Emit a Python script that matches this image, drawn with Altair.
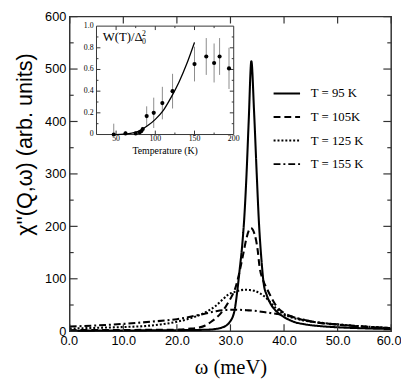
import altair as alt
import pandas as pd

# ---------------- main panel data ----------------
series_labels = ["T = 95 K", "T = 105K", "T = 125 K", "T = 155 K"]

omega_95 = [0, 5, 10, 15, 20, 24, 26, 28.4, 29.9, 30.8, 31.3, 31.7, 32.2, 32.6, 33.0, 33.4, 33.9,
            34.4, 34.9, 35.3, 35.8, 36.2, 36.8, 37.4, 38.2, 39, 40, 41.8, 44, 47, 50, 55, 60]
chi_95 = [1, 1.2, 1.4, 1.7, 2, 2.5, 3, 7, 18, 42, 79, 116, 165, 220, 300, 400, 515,
          420, 300, 210, 134, 91, 68, 54, 42, 34, 27, 18, 13, 9.5, 7.5, 5.5, 4.2]

omega_105 = [0, 5, 10, 15, 20.4, 22, 24.1, 25.3, 26.4, 27.3, 28.1, 29, 29.6, 30.2, 30.8, 31.5, 32.0,
             32.5, 33.0, 33.8, 34.5, 35.1, 35.4, 36.1, 36.9, 37.8, 38.7, 40, 41.2, 43, 46, 50, 55, 60]
chi_105 = [2, 2.2, 2.4, 2.6, 3, 4.5, 7, 11, 18, 25, 33, 45, 55, 66, 79, 105, 128,
           153, 178, 197, 185, 153, 125, 97, 79, 61, 46, 35, 29, 23, 17, 12.5, 8.5, 6]

omega_125 = [0, 5, 10, 14.3, 17, 20, 22.3, 25.3, 27.2, 28.5, 29.6, 30.8, 31.8, 32.7, 33.6, 34.5,
             35.7, 36.9, 37.8, 38.7, 40, 41.2, 43, 46.1, 50, 55, 60]
chi_125 = [5, 6.5, 8, 10, 13, 18, 24, 36, 48, 60, 70, 75, 78, 79, 78.5, 77,
           71, 61, 51, 42, 33, 27, 22, 17, 13, 9, 6]

omega_155 = [0, 5, 10, 15, 20, 25, 27.2, 29, 31, 33, 34.5, 36.5, 38.7, 40.4, 42, 44, 46, 50, 55, 60]
chi_155 = [9, 11, 14, 18, 23, 33, 38, 40.5, 41, 40, 39, 36, 33, 30, 26, 21, 17, 13, 9, 6]

x_ticks = [0, 10, 20, 30, 40, 50, 60]
y_ticks = [0, 100, 200, 300, 400, 500, 600]
y_minor = [50, 150, 250, 350, 450, 550]

# ---------------- inset data ----------------
T_pts = [47, 62, 75, 80, 82, 84, 89, 98, 109, 122, 150, 165, 175, 182, 194]
W_pts = [0.00, 0.01, 0.01, 0.02, 0.03, 0.05, 0.17, 0.20, 0.29, 0.40, 0.65, 0.72, 0.66, 0.72, 0.61]
W_err = [0.10, 0.02, 0.01, 0.01, 0.01, 0.02, 0.09, 0.14, 0.15, 0.16, 0.16, 0.17, 0.18, 0.17, 0.19]

T_fit = [50, 60, 70, 80, 90, 100, 110, 120, 130, 140, 150]
W_fit = [0.0, 0.003, 0.012, 0.035, 0.08, 0.14, 0.22, 0.34, 0.48, 0.65, 0.85]

inset_x_major = [50, 100, 150]
inset_x_minor = [75, 125, 175]
inset_y_major = [0.2, 0.4, 0.6, 0.8]
inset_y_minor = [0.1, 0.3, 0.5, 0.7, 0.9]
inset_x_labels = [50, 100, 150, 200]
inset_x_label_text = ["50", "100", "150", "200"]
inset_y_labels = [0, 0.2, 0.4, 0.6, 0.8, 1.0]
inset_y_label_text = ["0", "0.2", "0.4", "0.6", "0.8", "1.0"]

# ---------------- build ----------------
W, H = 328, 321
FRAME = "#333333"

rows = []
for lab, ws, cs in zip(series_labels, [omega_95, omega_105, omega_125, omega_155],
                       [chi_95, chi_105, chi_125, chi_155]):
    for w, c in zip(ws, cs):
        rows.append({"series": lab, "omega": w, "chi": c})
df = pd.DataFrame(rows)


def xs():
    return alt.Scale(domain=[0, 60], nice=False, zero=False)


def ys():
    return alt.Scale(domain=[0, 600], nice=False, zero=False)


def ixs():
    return alt.Scale(domain=[25, 200], range=[27.3, 167.3], nice=False, zero=False)


def iys():
    return alt.Scale(domain=[0, 1], range=[120.3, 9.7], nice=False, zero=False)


lines = alt.Chart(df).mark_line(interpolate="monotone", strokeWidth=2.1, color="black").encode(
    x=alt.X("omega:Q", scale=xs(),
            axis=alt.Axis(values=x_ticks, format=".1f", title="ω  (meV)", orient="bottom",
                          titleFont="Liberation Serif", titleFontSize=21, titleFontWeight="normal",
                          titleColor="black", titlePadding=9,
                          labelFont="Liberation Sans", labelFontSize=13, labelColor="black",
                          labelPadding=4, ticks=False, domain=False, grid=False,
                          labelFlush=True, labelFlushOffset=10)),
    y=alt.Y("chi:Q", scale=ys(),
            axis=alt.Axis(values=y_ticks, format="d", title="χ''(Q,ω)  (arb. units)", orient="left",
                          titleFont="Liberation Sans", titleFontSize=22, titleFontWeight="normal",
                          titleColor="black", titleAngle=-90, titleX=-46, titleY=130,
                          titleAlign="center", titleBaseline="middle",
                          labelFont="Liberation Sans", labelFontSize=13, labelColor="black",
                          labelPadding=4, ticks=False, domain=False, grid=False,
                          labelFlush=False)),
    strokeDash=alt.StrokeDash(
        "series:N",
        scale=alt.Scale(domain=series_labels, range=[[1, 0], [7, 4], [2, 2], [7, 3, 2, 3]]),
        legend=alt.Legend(title=None, orient="none", legendX=207, legendY=72,
                          symbolType="stroke", symbolSize=729, symbolStrokeWidth=2,
                          symbolStrokeColor="black", labelFont="Liberation Serif",
                          labelFontSize=13, labelColor="black", labelOffset=10,
                          rowPadding=10, clipHeight=13, padding=0)),
)


def vticks(vals, at, off, xscale, yscale, w=1.2):
    return alt.Chart(pd.DataFrame({"v": vals})).mark_rule(
        color=FRAME, strokeWidth=w, y2Offset=off).encode(
        x=alt.X("v:Q", scale=xscale, axis=None),
        y=alt.YDatum(at, scale=yscale, axis=None),
        y2=alt.Y2Datum(at),
    )


def hticks(vals, at, off, xscale, yscale, w=1.2):
    return alt.Chart(pd.DataFrame({"v": vals})).mark_rule(
        color=FRAME, strokeWidth=w, x2Offset=off).encode(
        y=alt.Y("v:Q", scale=yscale, axis=None),
        x=alt.XDatum(at, scale=xscale, axis=None),
        x2=alt.X2Datum(at),
    )


frame = alt.Chart(pd.DataFrame({"a": [0]})).mark_rect(
    fill="white", stroke=FRAME, strokeWidth=1).encode(
    x=alt.XDatum(25, scale=ixs(), axis=None), x2=alt.X2Datum(200),
    y=alt.YDatum(0, scale=iys(), axis=None), y2=alt.Y2Datum(1),
)

pts = pd.DataFrame({"T": T_pts, "W": W_pts, "err": W_err})

errbars = alt.Chart(pts).transform_calculate(
    lo="max(datum.W - datum.err, 0)", hi="datum.W + datum.err"
).mark_rule(color="#8a8a8a", strokeWidth=1).encode(
    x=alt.X("T:Q", scale=ixs(), axis=None),
    y=alt.Y("lo:Q", scale=iys(), axis=None),
    y2="hi:Q",
)

fit = alt.Chart(pd.DataFrame({"T": T_fit, "W": W_fit})).mark_line(
    interpolate="monotone", color="black", strokeWidth=1.3).encode(
    x=alt.X("T:Q", scale=ixs(), axis=None),
    y=alt.Y("W:Q", scale=iys(), axis=None),
)

dots = alt.Chart(pts).mark_circle(color="black", opacity=1, size=18).encode(
    x=alt.X("T:Q", scale=ixs(), axis=None),
    y=alt.Y("W:Q", scale=iys(), axis=None),
)

xlab = alt.Chart(pd.DataFrame({"v": inset_x_labels, "t": inset_x_label_text})).mark_text(
    font="Liberation Serif", fontSize=8, baseline="top", dy=0.5, color="black").encode(
    x=alt.X("v:Q", scale=ixs(), axis=None),
    y=alt.YDatum(0, scale=iys(), axis=None),
    text="t:N",
)
ylab = alt.Chart(pd.DataFrame({"v": inset_y_labels, "t": inset_y_label_text})).mark_text(
    font="Liberation Serif", fontSize=8, align="right", baseline="middle", dx=-3,
    color="black").encode(
    y=alt.Y("v:Q", scale=iys(), axis=None),
    x=alt.XDatum(25, scale=ixs(), axis=None),
    text="t:N",
)
xtitle = alt.Chart(pd.DataFrame({"t": ["Temperature (K)"]})).mark_text(
    font="Liberation Serif", fontSize=10, baseline="middle", dy=16.5, color="black").encode(
    x=alt.XDatum(112.5, scale=ixs(), axis=None),
    y=alt.YDatum(0, scale=iys(), axis=None),
    text="t:N",
)
ititle = alt.Chart(pd.DataFrame({"t": ["W(T)/Δ"]})).mark_text(
    font="Liberation Serif", fontSize=13, align="left", baseline="alphabetic", color="black").encode(
    x=alt.XDatum(33, scale=ixs(), axis=None),
    y=alt.YDatum(0.86, scale=iys(), axis=None),
    text="t:N",
)
isup = alt.Chart(pd.DataFrame({"t": ["2"]})).mark_text(
    font="Liberation Serif", fontSize=8, align="left", baseline="alphabetic", color="black").encode(
    x=alt.XDatum(83, scale=ixs(), axis=None),
    y=alt.YDatum(0.91, scale=iys(), axis=None),
    text="t:N",
)
isub = alt.Chart(pd.DataFrame({"t": ["0"]})).mark_text(
    font="Liberation Serif", fontSize=8, align="left", baseline="alphabetic", color="black").encode(
    x=alt.XDatum(83, scale=ixs(), axis=None),
    y=alt.YDatum(0.835, scale=iys(), axis=None),
    text="t:N",
)

chart = alt.layer(
    lines,
    vticks(x_ticks, 0, -7, xs(), ys()),
    vticks(x_ticks, 600, 7, xs(), ys()),
    hticks(y_ticks, 0, 8, xs(), ys()),
    hticks(y_minor, 0, 4, xs(), ys()),
    hticks(y_ticks, 60, -8, xs(), ys()),
    hticks(y_minor, 60, -4, xs(), ys()),
    frame,
    vticks(inset_x_major, 0, -4, ixs(), iys(), 1),
    vticks(inset_x_minor, 0, -2, ixs(), iys(), 1),
    vticks(inset_x_major, 1, 4, ixs(), iys(), 1),
    vticks(inset_x_minor, 1, 2, ixs(), iys(), 1),
    hticks(inset_y_major, 25, 4, ixs(), iys(), 1),
    hticks(inset_y_minor, 25, 2, ixs(), iys(), 1),
    hticks(inset_y_major, 200, -4, ixs(), iys(), 1),
    hticks(inset_y_minor, 200, -2, ixs(), iys(), 1),
    errbars,
    fit,
    dots,
    xlab,
    ylab,
    xtitle,
    ititle,
    isup,
    isub,
).resolve_scale(
    x="independent", y="independent"
).properties(
    width=W, height=H,
    autosize=alt.AutoSizeParams(type="none"),
    padding={"left": 63, "top": 5, "right": 10, "bottom": 47},
).configure_view(stroke=FRAME, strokeWidth=1.5)

chart.save("out.html", embed_options={"renderer": "svg", "actions": False})
